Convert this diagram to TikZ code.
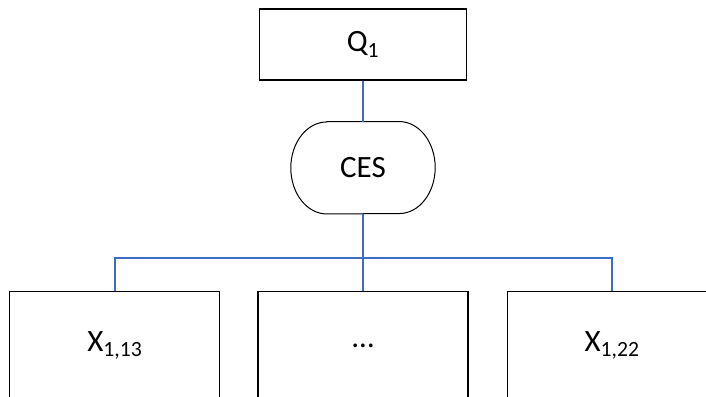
\documentclass[tikz,border=0pt]{standalone}
\usepackage{fontspec}
\setmainfont{Carlito}
\usetikzlibrary{positioning}
\definecolor{linkblue}{RGB}{60,108,196}

\begin{document}
\begin{tikzpicture}[x=1pt,y=1pt,node distance=41pt,
  box node/.style={rectangle,draw,line width=1.1pt,minimum width=207pt,minimum height=71pt,inner sep=0pt,font=\fontsize{31}{37}\selectfont},
  low node/.style={box node,minimum width=210pt,minimum height=108pt},
  term node/.style={rectangle,minimum width=144pt,minimum height=92pt,inner sep=0pt,font=\fontsize{31}{37}\selectfont},
  link/.style={draw=linkblue,line width=1.3pt}]

  \useasboundingbox (0,0) rectangle (706,-396);
  \clip (0,0) rectangle (706,-396);

  \node[box node] (Q1) at (363,-44.5) {Q\textsubscript{1}};
  \node[term node] (CES)[below=of Q1] {CES};
  \node[low node] (Dots)[below=77pt of CES] {…};
  \node[low node] (X13)[left=37pt of Dots] {X\textsubscript{1,13}};
  \node[low node] (X22)[right=38pt of Dots] {X\textsubscript{1,22}};
  \coordinate[below=44pt of CES.south] (Bus);

  % CES outline
  \draw[line width=1pt] ([xshift=36pt]CES.north west) -- ([xshift=-36pt]CES.north east)
    arc[start angle=90,end angle=-90,x radius=36pt,y radius=46pt]
    -- ([xshift=36pt]CES.south west)
    arc[start angle=270,end angle=90,x radius=36pt,y radius=46pt] -- cycle;

  \path[link] (Q1) -- (CES);
  \path[link] (CES) -- (Dots);
  \path[link] (X13) |- (Bus) -| (X22);

\end{tikzpicture}
\end{document}
